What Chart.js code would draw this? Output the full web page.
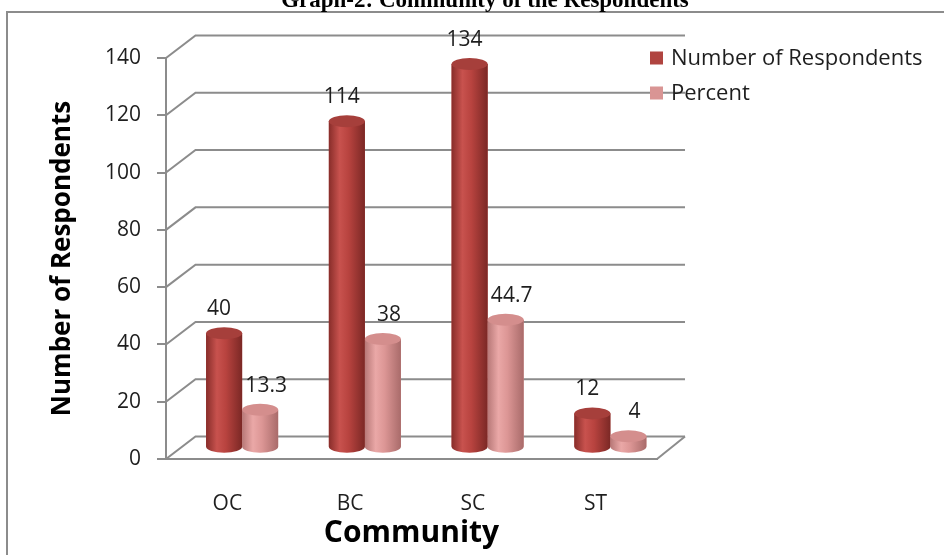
<!DOCTYPE html>
<html><head><meta charset="utf-8">
<style>html,body{margin:0;padding:0;background:#fff;overflow:hidden}canvas{display:block}</style>
<script src="https://cdn.jsdelivr.net/npm/chart.js@4/dist/chart.umd.min.js"></script>
</head><body>
<canvas id="c" width="944" height="555"></canvas>
<script>
// ---- data ----
const categories = ['OC', 'BC', 'SC', 'ST'];
const respondents = [40, 114, 134, 12];
const percent = [13.3, 38, 44.7, 4];
const seriesNames = ['Number of Respondents', 'Percent'];
const yMin = 0, yMax = 140, yStep = 20;
const chartTitle = 'Graph-2: Community of the Respondents';
const xTitle = 'Community';
const yTitle = 'Number of Respondents';

// ---- style ----
const FONT = "'Open Sans', sans-serif";
const GRID = '#8c8c8c';
const TXT = '#1e1e1e';
const DEPTH = {dx: 29.5, dy: 22.5};
const SHIFT = {dx: 14.75, dy: -11.25};
const PAL = [
  {base: '#b8433f', edge: '#882d2a', light: '#c8524e', right: '#7b2825', top: '#a63f3b', legend: '#b04440'},
  {base: '#dc9695', edge: '#b77877', light: '#eaa8a7', right: '#a96b6a', top: '#d48e8d', legend: '#d99594'}
];
const LABEL_DX = [-5, 6];
const RY = 6;

Chart.defaults.font.family = FONT;
Chart.defaults.color = TXT;

const scene = {
  id: 'scene',
  beforeDraw(chart) {
    const c = chart.ctx;
    c.save();
    c.fillStyle = '#fff';
    c.fillRect(0, 0, chart.width, chart.height);
    c.strokeStyle = GRID; c.lineWidth = 2;
    c.strokeRect(7, 12, chart.width + 20, chart.height + 20);
    c.restore();
  },
  beforeDatasetsDraw(chart) {
    const c = chart.ctx, y = chart.scales.y, a = chart.chartArea;
    c.save();
    c.strokeStyle = GRID; c.lineWidth = 2;
    for (let v = yMin; v <= yMax; v += yStep) {
      const py = y.getPixelForValue(v);
      c.beginPath();
      c.moveTo(a.left, py);
      c.lineTo(a.left + DEPTH.dx, py - DEPTH.dy);
      c.lineTo(a.right + DEPTH.dx - 1.5, py - DEPTH.dy);
      c.stroke();
    }
    const p0 = y.getPixelForValue(0);
    c.beginPath(); c.moveTo(a.right, p0); c.lineTo(a.right + DEPTH.dx - 1.5, p0 - DEPTH.dy); c.stroke();
    // legend
    c.font = '22px ' + FONT; c.textBaseline = 'middle'; c.textAlign = 'left';
    chart.data.datasets.forEach((ds, i) => {
      const cy = 58 + i * 35;
      c.fillStyle = PAL[i].legend;
      c.fillRect(650, cy - 6.5, 13, 13);
      c.fillStyle = TXT;
      c.fillText(ds.label, 671, cy + 1);
    });
    c.restore();
    c.save();
    c.translate(SHIFT.dx, SHIFT.dy);
  },
  afterDatasetsDraw(chart) {
    const c = chart.ctx;
    chart.data.datasets.forEach((ds, i) => {
      const meta = chart.getDatasetMeta(i);
      const p = PAL[i];
      meta.data.forEach((el, j) => {
        const {x, y, base, width} = el.getProps(['x', 'y', 'base', 'width'], true);
        const l = x - width / 2, r = x + width / 2;
        const g = c.createLinearGradient(l, 0, r, 0);
        g.addColorStop(0, p.edge); g.addColorStop(0.3, p.light); g.addColorStop(0.55, p.base); g.addColorStop(1, p.right);
        c.fillStyle = g;
        c.beginPath();
        c.moveTo(l, y); c.lineTo(l, base);
        c.ellipse(x, base, width / 2, RY, 0, Math.PI, 0, true);
        c.lineTo(r, y); c.closePath();
        c.fill();
        c.beginPath();
        c.ellipse(x, y, width / 2, RY, 0, 0, Math.PI * 2);
        c.fillStyle = p.top; c.fill();
        c.fillStyle = TXT; c.font = '21px ' + FONT; c.textAlign = 'center'; c.textBaseline = 'middle';
        c.fillText(String(ds.data[j]), x + LABEL_DX[i], y - 24);
      });
    });
    c.restore();
  },
  afterDraw(chart) {
    const c = chart.ctx;
    c.save();
    c.font = "bold 23px 'Liberation Serif', serif";
    c.fillStyle = '#000'; c.textAlign = 'center'; c.textBaseline = 'alphabetic';
    c.fillText(chartTitle, 485, 7);
    c.restore();
  }
};

new Chart(document.getElementById('c'), {
  type: 'bar',
  data: {
    labels: categories,
    datasets: [
      {label: seriesNames[0], data: respondents, backgroundColor: PAL[0].base},
      {label: seriesNames[1], data: percent, backgroundColor: PAL[1].base}
    ]
  },
  options: {
    responsive: false,
    animation: false,
    devicePixelRatio: 1,
    clip: false,
    categoryPercentage: 0.587,
    barPercentage: 1,
    layout: {padding: {left: 20, right: 287, top: 58, bottom: 0}},
    plugins: {legend: {display: false}, tooltip: {enabled: false}, title: {display: false}},
    scales: {
      x: {
        grid: {display: false, drawTicks: false},
        border: {display: true, color: GRID, width: 2},
        ticks: {padding: 32, color: TXT, font: {size: 21}},
        title: {display: true, text: xTitle, color: '#000', font: {size: 30, weight: 'bold'}, padding: {top: 0, bottom: 4}},
        afterFit(s) { s.height = 96; }
      },
      y: {
        min: yMin, max: yMax,
        grid: {drawOnChartArea: false, drawTicks: true, tickLength: 9, color: GRID, lineWidth: 2},
        border: {display: true, color: GRID, width: 2},
        ticks: {stepSize: yStep, padding: 16, color: TXT, font: {size: 21}},
        title: {display: true, text: yTitle, color: '#000', font: {size: 26, weight: 'bold'}, padding: {top: 27, bottom: 0}},
        afterFit(s) { s.width = 146; }
      }
    }
  },
  plugins: [scene]
});
</script>
</body></html>
